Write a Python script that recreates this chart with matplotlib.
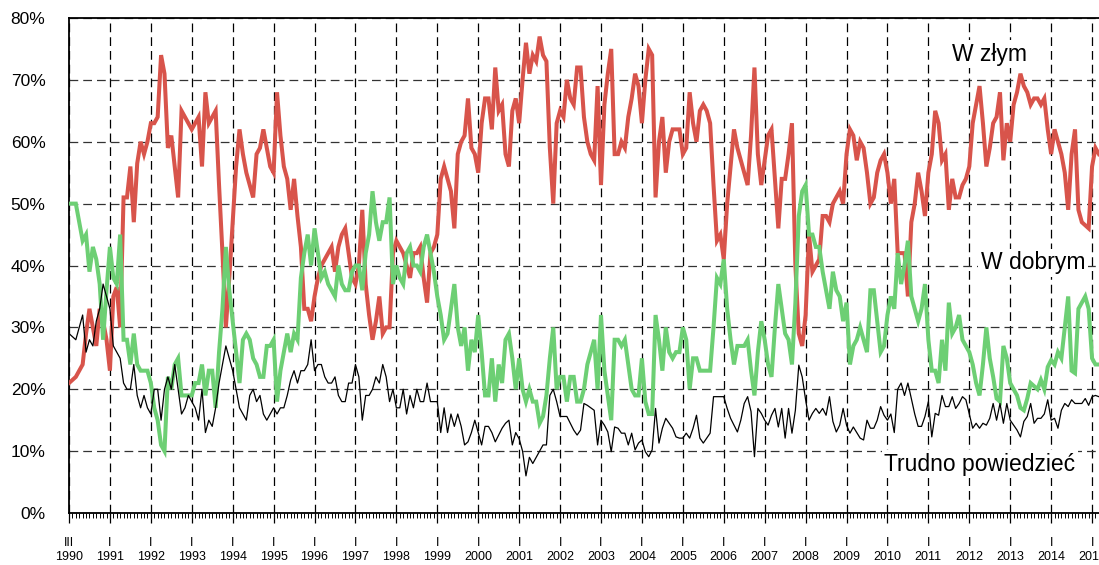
import numpy as np
import matplotlib.pyplot as plt

plt.rcParams['font.family'] = ['Liberation Sans', 'DejaVu Sans']

# monthly readings, first one = March 1990, one row per year
zly = [
    21, 21.5, 22, 23, 24, 29, 33, 30, 27, 33, 31, 28,          # 1990
    23, 35, 36.5, 30, 51, 51, 56, 47, 56.5, 60, 58, 60,        # 1991
    63, 63, 64, 74, 71, 59, 61, 56, 51, 65, 64, 63,            # 1992
    62, 63, 64, 56, 68, 63, 64, 65, 53, 42, 30, 38,            # 1993
    47, 56, 62, 58, 55, 53, 51, 58, 59, 62, 59, 56,            # 1994
    55, 68, 61, 56, 54, 49, 54, 48, 43, 33, 33, 31,            # 1995
    35, 38, 40, 41, 42, 43, 39, 43, 45, 46, 42, 38,            # 1996
    37, 40, 49, 37, 32, 28, 31, 35, 29, 30, 30, 42,            # 1997
    44, 43, 42, 40, 38, 42, 42, 43, 38, 34, 42, 43,            # 1998
    45, 54, 56, 54, 52, 46, 58, 60, 61, 67, 59, 58,            # 1999
    55, 63, 67, 67, 62, 72, 65, 66, 58, 56, 65, 67,            # 2000
    63, 70, 76, 71, 74, 73, 77, 74, 73, 59, 50, 63,            # 2001
    65, 64, 70, 67, 66, 72, 72, 64, 60, 58, 57, 69,            # 2002
    53, 66, 71, 75, 58, 58, 60, 59, 64, 67, 71, 69,            # 2003
    63, 70, 75, 74, 51, 60, 64, 55, 60, 62, 62, 62,            # 2004
    58, 59, 68, 63, 60, 65, 66, 65, 63, 53, 44, 45,            # 2005
    41, 50, 56, 62, 59, 57, 55, 53, 61, 72, 58, 53,            # 2006
    57, 61, 62, 54, 46, 54, 54, 58, 63, 40, 29, 27,            # 2007
    32, 45, 39, 40, 41, 48, 48, 47, 50, 51, 52, 50,            # 2008
    58, 62, 61, 57, 60, 59, 55, 50, 51, 55, 57, 58,            # 2009
    55, 50, 54, 42, 42, 42, 35, 47, 50, 55, 52, 48,            # 2010
    55, 58, 65, 63, 57, 58, 49, 54, 51, 51, 53, 54,            # 2011
    56, 63, 66, 69, 63, 56, 59, 63, 64, 68, 57, 63,            # 2012
    60, 66, 68, 71, 69, 68, 66, 67, 67, 66, 67, 62,            # 2013
    58, 62, 60, 58, 55, 49, 58, 62, 49, 47, 46.5, 46,          # 2014
    56, 59, 58,                                                # 2015
]

dobry = [
    50, 50, 50, 47, 44, 45, 39, 43, 41, 37, 28, 36,            # 1990
    43, 38, 37, 45, 28, 28, 24, 29, 24, 23, 23, 23,            # 1991
    21, 17, 15, 11, 10, 22, 20, 24, 25, 19, 19, 19,            # 1992
    19, 21, 21, 24, 19, 23, 23, 17, 26, 33, 43, 36,            # 1993
    31, 26, 21, 28, 29, 28, 25, 24, 22, 22, 27, 27,            # 1994
    28, 18, 23, 26, 29, 26, 29, 28, 38, 42, 45, 40,            # 1995
    46, 42, 38, 39, 37, 36, 35, 40, 37, 36, 36, 39,            # 1996
    40, 40, 36, 42, 45, 52, 47, 44, 47, 47, 51, 37,            # 1997
    40, 38, 37, 42, 43, 40, 40, 39, 43, 45, 42, 39,            # 1998
    35, 32, 28, 29, 33, 37, 30, 27, 30, 23, 28, 26,            # 1999
    32, 26, 19, 19, 25, 18, 24, 21, 28, 29, 25, 20,            # 2000
    25, 20, 18, 20, 18, 18, 14.5, 15.6, 19, 25, 30, 20,        # 2001
    22, 22, 18, 22, 22, 18, 18, 20, 24, 26, 28, 20,            # 2002
    32, 23, 19, 15, 28, 28, 27, 28, 24, 20, 19, 19,            # 2003
    25, 18, 16, 16, 32, 28, 23, 30, 26, 25, 26, 26,            # 2004
    30, 28, 20, 25, 25, 23, 23, 23, 23, 30, 38, 37,            # 2005
    41, 33, 28, 24, 27, 27, 27, 28, 23, 19, 26, 31,            # 2006
    28, 24, 22, 30, 37, 33, 29, 28, 24, 34, 48, 52,            # 2007
    53, 45, 45, 43, 43, 39, 36, 33, 39, 36, 35, 31,            # 2008
    34, 24, 27, 28, 30, 28, 26, 36, 36, 31, 26, 27,            # 2009
    32, 35, 33, 42, 37, 40, 44, 35, 33, 31, 33, 37,            # 2010
    28, 23, 23, 21, 28, 23, 34, 29, 30, 32, 28, 27,            # 2011
    26, 24, 21, 19, 24, 30, 25, 22, 18.5, 18, 27, 25,          # 2012
    21, 20, 19, 17, 16.6, 18.5, 21, 20.5, 20, 21.5, 20, 23.6,  # 2013
    24.7, 24, 26, 25, 30, 35, 23, 22.6, 33, 34, 35, 33,        # 2014
    25, 24, 24,                                                # 2015
]

trudno = [
    29, 28.5, 28, 30, 32, 26, 28, 27, 31, 33, 37, 35,          # 1990
    33, 27, 26, 25, 21, 20, 20, 24, 19, 17, 19, 17,            # 1991
    16, 20, 20, 15, 20, 22, 20, 24, 20, 16, 17, 19,            # 1992
    18, 17, 15, 20, 13, 15, 14, 17, 21, 24, 27, 25,            # 1993
    23, 20, 17, 16, 15, 19, 20, 18, 19, 16, 15, 16,            # 1994
    17, 16, 17, 17, 19, 21.5, 23, 21, 23, 23, 24, 28,          # 1995
    23, 24, 24, 22, 21, 21, 22, 19, 18, 18, 21, 21,            # 1996
    24, 22, 15, 19, 19, 20, 22, 21, 24, 22, 18, 20,            # 1997
    17, 17, 20, 16, 19, 17, 20, 18, 18, 21, 18, 18,            # 1998
    18, 13, 17, 13, 16, 14, 16, 14, 11, 11.5, 13, 15,          # 1999
    13, 11, 14, 14, 13, 11.5, 12.6, 13.7, 14.5, 15, 11, 13,    # 2000
    12, 10, 6, 9, 8, 9, 10, 11, 11, 19, 20, 18,                # 2001
    15.6, 15.6, 15.6, 14.5, 13.4, 12.6, 13.4, 17.7, 17.4, 17, 16.6, 11,   # 2002
    15, 14.2, 13.1, 9.9, 13.9, 13.7, 12.9, 12.9, 11, 12.9, 10.2, 11.3,    # 2003
    11.8, 9.9, 9.1, 10.2, 16.9, 11.3, 13.7, 15.3, 14.5, 13.7, 12.3, 12.1, # 2004
    12.1, 12.9, 12.1, 13.7, 15.8, 12.1, 11.3, 12.1, 12.9, 18.8, 18.8, 18.8,  # 2005
    18.8, 16.9, 15.3, 14.2, 13.1, 15, 17.7, 18.8, 16.4, 9.1, 16.9, 16.1,  # 2006
    15, 14.2, 15.8, 16.9, 13.9, 16.9, 12.1, 16.9, 12.9, 16.6, 23.9, 22,   # 2007
    18.3, 15, 16.1, 16.9, 16.1, 16.9, 15.8, 18.8, 14.8, 13.1, 14.2, 16.9, # 2008
    14.2, 12.9, 13.9, 13, 12.1, 11.8, 15, 13.7, 13.7, 15, 17.2, 15.8,     # 2009
    15, 16, 13, 20, 21, 19, 21, 18.5, 16, 14, 14, 15.6,                   # 2010
    18, 12.3, 16.1, 15.8, 19, 17.2, 17.2, 18.8, 16.9, 17.7, 18.8, 18.3,   # 2011
    16, 13.7, 14.5, 13.7, 14.5, 14.2, 15.3, 17.7, 15, 17.7, 14.5, 17.7,   # 2012
    15, 14.2, 13.4, 12.3, 14.8, 15.6, 17.7, 14.5, 15.3, 15.3, 16, 18.3,   # 2013
    15, 15.3, 13.7, 16.6, 17.7, 17.2, 18.3, 17.7, 17.7, 17.7, 18.5, 17.4, # 2014
    18.8, 19, 18.8,                                                       # 2015
]

years = list(range(1990, 2016))
first_month = 'III'

red = '#d8544b'
green = '#6dcf74'

fig = plt.figure(figsize=(10.99, 5.65), dpi=100)
# axes runs a little past the right edge, like the cropped original
ax = fig.add_axes([69 / 1099, 52 / 565, 1035 / 1099, 495 / 565])

x = np.arange(len(zly))
ax.plot(x, zly, color=red, lw=2.9, solid_joinstyle='miter', zorder=3)
ax.plot(x, dobry, color=green, lw=2.9, solid_joinstyle='miter', zorder=4)
ax.plot(x, trudno, color='black', lw=0.9, zorder=5)

ax.set_xlim(0, 303.5)
ax.set_ylim(0, 80)

ax.set_yticks(range(0, 81, 10))
ax.set_yticklabels([f'{v}%' for v in range(0, 81, 10)], fontsize=12.5)
ax.tick_params(axis='y', length=0, pad=17)

major = [12 * i for i in range(len(years))]
labels = [('%s\n%d' % (first_month if i == 0 else 'I', y)) for i, y in enumerate(years)]
ax.set_xticks(major)
ax.set_xticklabels(labels, fontsize=9, linespacing=1.15)
ax.set_xticks([m for m in range(0, 304) if m % 12], minor=True)
ax.tick_params(axis='x', which='major', direction='out', length=7.5, width=0.9, pad=10)
ax.tick_params(axis='x', which='minor', direction='out', length=3.5, width=0.7)

ax.grid(axis='y', color='#333333', lw=0.9, dashes=(7, 4))
ax.grid(axis='x', which='major', color='black', lw=0.9, dashes=(7, 4))
ax.set_axisbelow(True)

for side in ['left', 'bottom', 'top']:
    ax.spines[side].set_linewidth(1.3)
ax.spines['right'].set_visible(False)


# series names, placed in pixel terms of the original picture
def label(txt, cx, cy):
    fig.text(cx / 1099, 1 - cy / 565, txt, fontsize=16.5, ha='center', va='center',
             bbox=dict(facecolor='white', edgecolor='none', pad=2))


label('W złym', 989, 54)
label('W dobrym', 1033, 263)
label('Trudno powiedzieć', 980, 464)

fig.savefig('out.png', dpi=100)
